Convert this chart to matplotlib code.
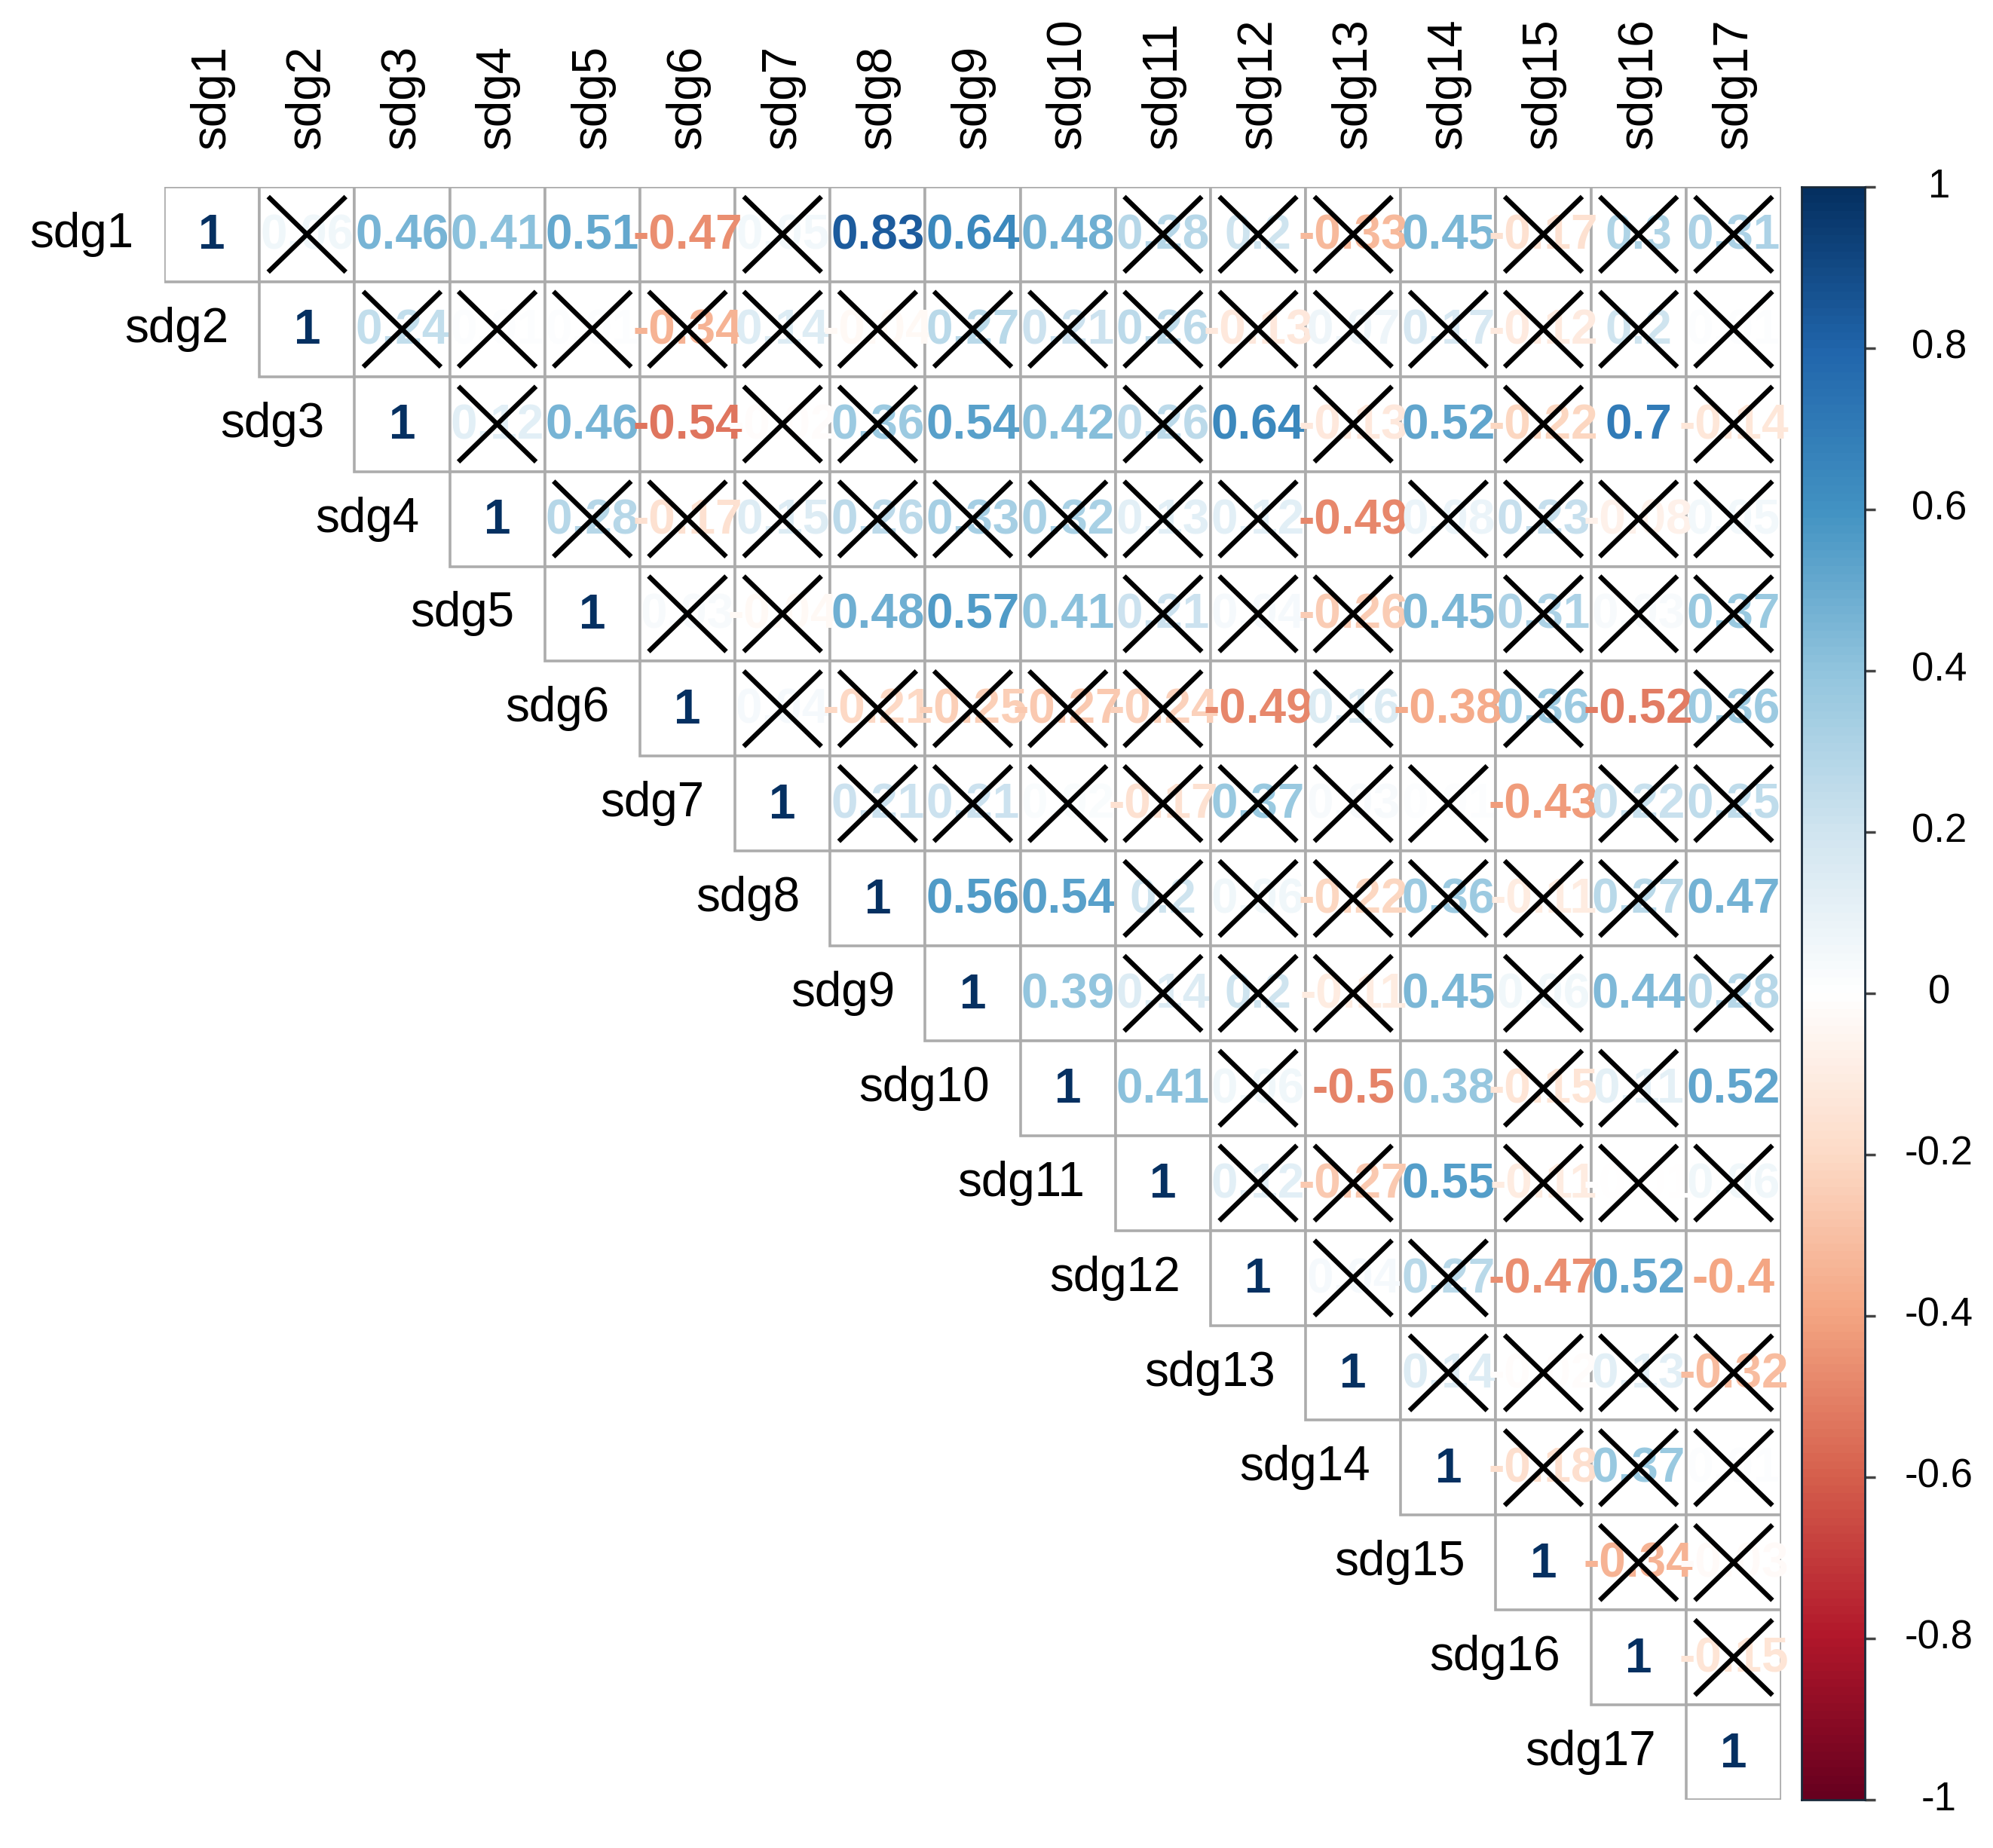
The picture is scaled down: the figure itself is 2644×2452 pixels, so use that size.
import numpy as np
import matplotlib
matplotlib.use("Agg")
import matplotlib.pyplot as plt
from matplotlib.colors import LinearSegmentedColormap, Normalize
from matplotlib.patches import Rectangle

plt.rcParams['font.family'] = ['Liberation Sans', 'DejaVu Sans']

# variable names
labels = ["sdg%d" % k for k in range(1, 18)]

# upper triangle of the correlation matrix, row i starts at the diagonal
values = [
    [1, 0.06, 0.46, 0.41, 0.51, -0.47, 0.05, 0.83, 0.64, 0.48, 0.28, 0.2, -0.33, 0.45, -0.17, 0.3, 0.31],
    [1, 0.24, 0.01, 0.01, -0.34, 0.14, -0.04, 0.27, 0.21, 0.26, -0.13, 0.07, 0.17, -0.12, 0.2, 0.01],
    [1, 0.12, 0.46, -0.54, -0.02, 0.36, 0.54, 0.42, 0.26, 0.64, -0.13, 0.52, -0.22, 0.7, -0.14],
    [1, 0.28, -0.17, 0.15, 0.26, 0.33, 0.32, 0.13, 0.12, -0.49, 0.08, 0.23, -0.08, 0.05],
    [1, 0.03, -0.04, 0.48, 0.57, 0.41, 0.21, 0.04, -0.26, 0.45, 0.31, 0.03, 0.37],
    [1, 0.04, -0.21, -0.25, -0.27, -0.24, -0.49, 0.16, -0.38, 0.36, -0.52, 0.36],
    [1, 0.21, 0.21, 0.02, -0.17, 0.37, 0.03, 0.01, -0.43, 0.22, 0.25],
    [1, 0.56, 0.54, 0.2, 0.06, -0.22, 0.36, -0.11, 0.27, 0.47],
    [1, 0.39, 0.14, 0.2, -0.11, 0.45, 0.06, 0.44, 0.28],
    [1, 0.41, 0.06, -0.5, 0.38, -0.15, 0.11, 0.52],
    [1, 0.12, -0.27, 0.55, -0.11, -0.01, 0.06],
    [1, 0.04, 0.27, -0.47, 0.52, -0.4],
    [1, 0.14, -0.02, 0.13, -0.32],
    [1, -0.18, 0.37, 0.01],
    [1, -0.34, -0.03],
    [1, -0.15],
    [1],
]

# columns (1-based) crossed out as not significant, per row
insig = [
    [2, 7, 11, 12, 13, 15, 16, 17],
    list(range(3, 18)),
    [4, 7, 8, 11, 13, 15, 17],
    [5, 6, 7, 8, 9, 10, 11, 12, 14, 15, 16, 17],
    [6, 7, 11, 12, 13, 15, 16, 17],
    [7, 8, 9, 10, 11, 13, 15, 17],
    [8, 9, 10, 11, 12, 13, 14, 16, 17],
    [11, 12, 13, 14, 15, 16],
    [11, 12, 13, 15, 17],
    [12, 15, 16],
    [12, 13, 15, 16, 17],
    [13, 14],
    [14, 15, 16, 17],
    [15, 16, 17],
    [16, 17],
    [17],
    [],
]

cbar_ticks = [1, 0.8, 0.6, 0.4, 0.2, 0, -0.2, -0.4, -0.6, -0.8, -1]

cmap = LinearSegmentedColormap.from_list(
    "rdbu", ["#67001F", "#B2182B", "#D6604D", "#F4A582", "#FDDBC7", "#FFFFFF",
             "#D1E5F0", "#92C5DE", "#4393C3", "#2166AC", "#053061"], N=200)
norm = Normalize(-1, 1)


def fmt(v):
    s = ("%.2f" % v).rstrip("0").rstrip(".")
    return "0" if s in ("-0", "") else s


W, H = 2644, 2452
L, R, T, B = 218, 2363, 248, 2388

fig = plt.figure(figsize=(W / 100, H / 100), dpi=100)
ax = fig.add_axes([L / W, 1 - B / H, (R - L) / W, (B - T) / H])
ax.set_xlim(0, 17)
ax.set_ylim(17, 0)
ax.axis("off")

for i, row in enumerate(values):
    for k, v in enumerate(row):
        j = i + k
        ax.add_patch(Rectangle((j, i), 1, 1, facecolor="white",
                               edgecolor="#acacac", lw=2.6, zorder=1))
        ax.text(j + 0.5, i + 0.52, fmt(v), ha="center", va="center",
                fontsize=46, fontweight="bold", color=cmap(norm(v)), zorder=2)
        if (j + 1) in insig[i]:
            ax.plot([j + 0.11, j + 0.89], [i + 0.12, i + 0.88], color="black",
                    lw=4.6, zorder=3)
            ax.plot([j + 0.11, j + 0.89], [i + 0.88, i + 0.12], color="black",
                    lw=4.6, zorder=3)

# row labels on the diagonal, column labels on top
for i, lab in enumerate(labels):
    ax.text(i - 0.32, i + 0.5, lab, ha="right", va="center", fontsize=46,
            color="black", clip_on=False)
    ax.text(i + 0.5, -0.4, lab, ha="center", va="bottom", rotation=90,
            fontsize=46, color="black", clip_on=False)

# colour legend
cax = fig.add_axes([2390 / W, 1 - B / H, 84 / W, (B - T) / H])
grad = np.linspace(-1, 1, 200).reshape(-1, 1)
cax.imshow(grad, aspect="auto", cmap=cmap, norm=norm, origin="lower",
           extent=[0, 1, -1, 1], interpolation="nearest")
cax.set_xlim(0, 1)
cax.set_ylim(-1, 1)
cax.set_xticks([])
cax.set_yticks(cbar_ticks)
cax.yaxis.tick_right()
cax.tick_params(axis="y", direction="out", length=10, width=2.5,
                color="#444444", labelright=False, labelleft=False)
for sp in cax.spines.values():
    sp.set_color("#1a2a3a")
    sp.set_linewidth(2)
for t in cbar_ticks:
    cax.text(2.17, t, fmt(t), ha="center", va="center", fontsize=38,
             color="black", clip_on=False)

fig.savefig("out.png", dpi=100, facecolor="white")
